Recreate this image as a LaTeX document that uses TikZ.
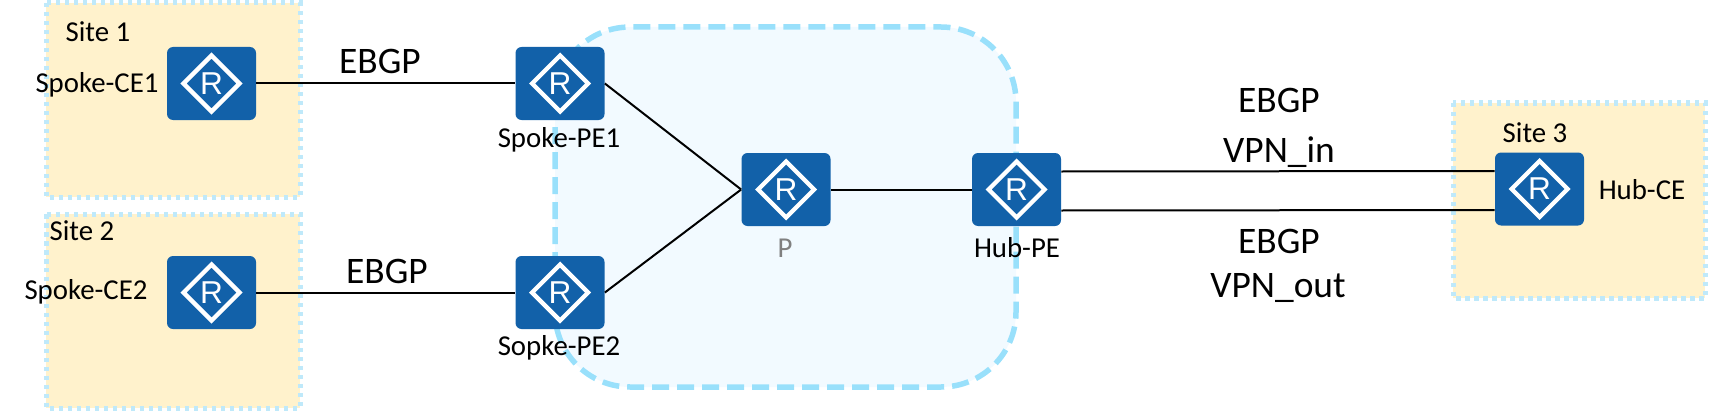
\documentclass[tikz,border=0pt]{standalone}
\usepackage{fontspec}
\setmainfont{Carlito}
\newfontfamily\routerfont{Liberation Sans}
\definecolor{siteFill}{HTML}{FFF2CC}
\definecolor{siteEdge}{HTML}{BFE9FA}
\definecolor{coreFill}{HTML}{F2FAFF}
\definecolor{coreEdge}{HTML}{99E0FB}
\definecolor{routerBlue}{HTML}{1261A9}
\tikzset{
  site/.style={fill=siteFill, draw=siteEdge, line width=0.1cm, dash pattern=on 0.09cm off 0.09cm},
  router/.style={rectangle, rounded corners=0.12cm, fill=routerBlue, text=white, inner sep=0pt,
    minimum width=1.78cm, minimum height=1.46cm, font=\routerfont\fontsize{18}{18}\selectfont,
    path picture={\draw[white, line width=0.085cm, sharp corners]
      ([xshift=-0.56cm]path picture bounding box.center) -- ([yshift=0.56cm]path picture bounding box.center)
      -- ([xshift=0.56cm]path picture bounding box.center) -- ([yshift=-0.56cm]path picture bounding box.center) -- cycle;}},
  link/.style={line width=0.04cm, black},
  lbl/.style={font=\fontsize{16.4}{18}\selectfont, inner sep=0pt},
  biglbl/.style={font=\fontsize{21.3}{24}\selectfont, inner sep=0pt}
}
\begin{document}
\begin{tikzpicture}
  \useasboundingbox (0,0) rectangle (34.18,8.22);
  % sites and core
  \draw[site] (0.92,8.16) rectangle (6.00,4.28);
  \draw[site] (0.92,3.94) rectangle (6.00,0.06);
  \draw[site] (29.06,6.16) rectangle (34.10,2.26);
  \draw[fill=coreFill, draw=coreEdge, line width=0.11cm, dash pattern=on 0.34cm off 0.16cm, rounded corners=1.5cm]
    (11.10,7.68) rectangle (20.32,0.48);
  % routers
  \node[router] (ce1) at (4.23,6.55) {R};
  \node[router] (ce2) at (4.23,2.37) {R};
  \node[router] (pe1) at (11.20,6.55) {R};
  \node[router] (pe2) at (11.20,2.37) {R};
  \node[router] (p) at (15.72,4.43) {R};
  \node[router] (hubpe) at (20.33,4.43) {R};
  \node[router] (hubce) at (30.79,4.44) {R};
  % links
  \draw[link] (ce1) -- (pe1);
  \draw[link] (ce2) -- (pe2);
  \draw[link] (pe1.east) -- (p.west);
  \draw[link] (pe2.east) -- (p.west);
  \draw[link] (p) -- (hubpe);
  \draw[link] ([yshift=0.36cm]hubpe.east) -- ([yshift=0.36cm]hubce.west);
  \draw[link] ([yshift=-0.42cm]hubpe.east) -- ([yshift=-0.42cm]hubce.west);
  % labels
  \node[lbl] (site1) at (1.96,7.58) {Site 1};
  \node[lbl] (site2) at (1.64,3.60) {Site 2};
  \node[lbl] (site3) at (30.70,5.56) {Site 3};
  \node[lbl] (ce1lbl) at (1.94,6.52) {Spoke-CE1};
  \node[lbl] (ce2lbl) at (1.72,2.38) {Spoke-CE2};
  \node[lbl] (pe1lbl) at (11.18,5.42) {Spoke-PE1};
  \node[lbl] (pe2lbl) at (11.18,1.26) {Sopke-PE2};
  \node[lbl, text=gray] (plbl) at (15.70,3.26) {P};
  \node[lbl] (hubpelbl) at (20.34,3.26) {Hub-PE};
  \node[lbl] (hubcelbl) at (32.84,4.42) {Hub-CE};
  \node[biglbl] (ebgp1) at (7.60,7.00) {EBGP};
  \node[biglbl] (ebgp2) at (7.74,2.80) {EBGP};
  \node[biglbl] (ebgp3) at (25.58,6.22) {EBGP};
  \node[biglbl] (vpnin) at (25.58,5.18) {VPN\_in};
  \node[biglbl] (ebgp4) at (25.58,3.40) {EBGP};
  \node[biglbl] (vpnout) at (25.56,2.46) {VPN\_out};
\end{tikzpicture}
\end{document}
